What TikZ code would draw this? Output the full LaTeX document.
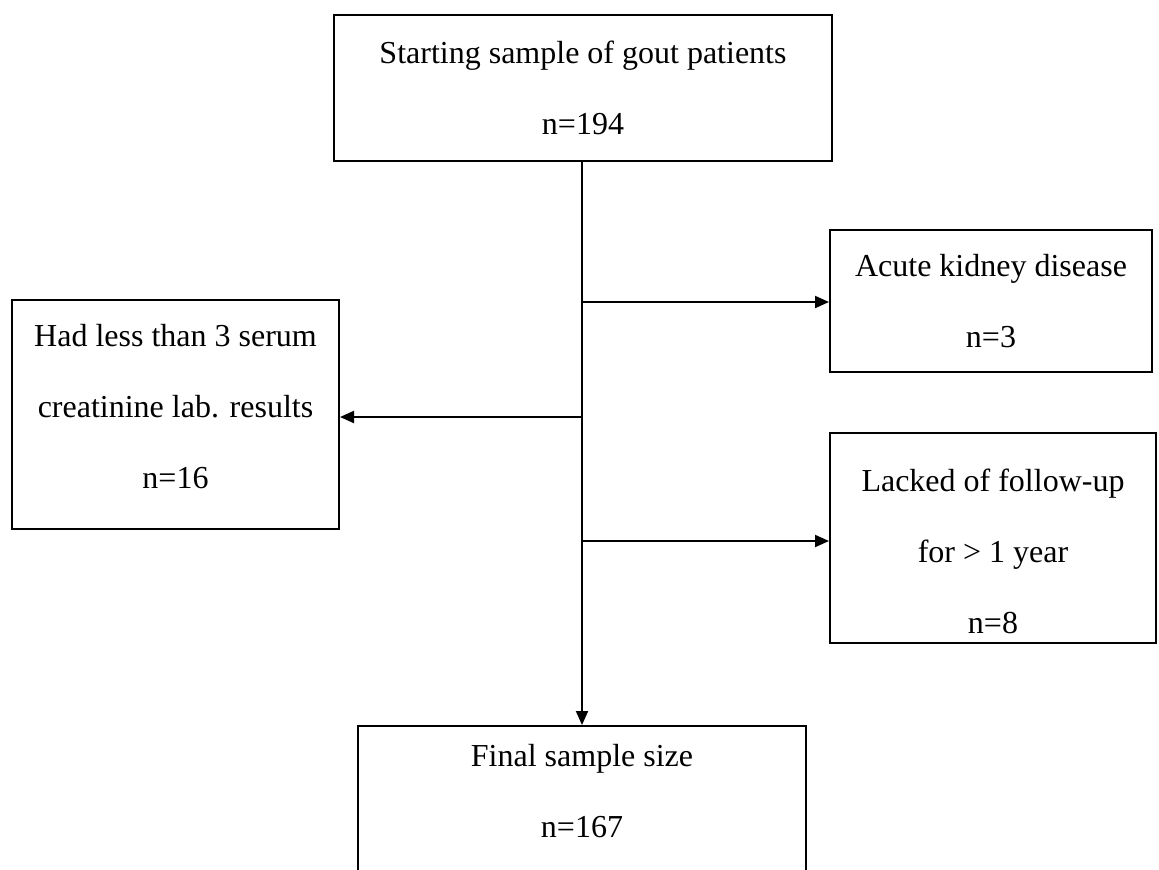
\documentclass[tikz,border=0pt]{standalone}
\usepackage{fontspec}
\setmainfont{Liberation Serif}
\usetikzlibrary{arrows.meta}

\tikzset{
    box/.style={draw, rectangle, line width=0.8pt, align=center, inner sep=0pt, font={\fontsize{12.8}{28.4}\selectfont}},
    flow/.style={line width=0.8pt, -{Triangle[length=5.6pt,width=4.8pt]}}
}

\begin{document}
\begin{tikzpicture}[x=0.4pt, y=-0.4pt]
    
    \clip (0,0) rectangle (1159,869);
    
    \node[box, minimum width=199.2pt, minimum height=58.4pt] (start) at (583,88) {Starting sample of gout patients\\n=194};
    
    \node[box, minimum width=128.8pt, minimum height=56.8pt] (acute) at (991,301) {Acute kidney disease\\n=3};
    \node[box, minimum width=130.8pt, minimum height=91.6pt, text depth=6.4pt] (less) at (175.5,414.5) {Had less than 3 serum\\creatinine lab. results\\n=16};
    \node[box, minimum width=130.4pt, minimum height=84pt] (lacked) at (993,538) {\rule{0pt}{19.4pt}Lacked of follow-up\\for > 1 year\\n=8};
    
    \node[box, minimum width=179.2pt, minimum height=61.6pt, text depth=9.6pt] (final) at (582,803) {Final sample size\\n=167};
    
    \coordinate (b1) at (582,302);
    \coordinate (b2) at (582,417);
    \coordinate (b3) at (582,541);
    
    \draw[flow] (start.south -| final.north) -- (final.north);
    \draw[flow] (b1) -- (acute.west |- b1);
    \draw[flow] (b2) -- (less.east |- b2);
    \draw[flow] (b3) -- (lacked.west |- b3);
    
\end{tikzpicture}
\end{document}
